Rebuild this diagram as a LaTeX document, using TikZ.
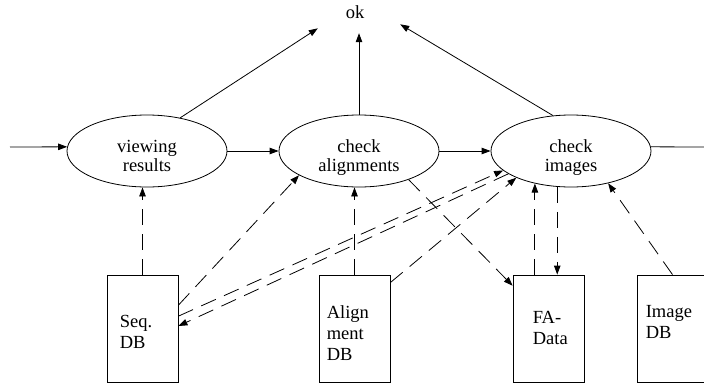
\documentclass[tikz,border=0pt]{standalone}
\usepackage{fontspec}
\setmainfont{Liberation Serif}
\usetikzlibrary{arrows.meta,shapes.geometric,calc}
\newcommand{\ctab}[1]{\begin{tabular}[t]{@{}c@{}}#1\end{tabular}}
\newcommand{\ltab}[1]{\begin{tabular}[t]{@{}l@{}}#1\end{tabular}}
\begin{document}
\begin{tikzpicture}[x=1pt,y=-1pt,
  every node/.style={font=\fontsize{18.5}{19.5}\selectfont},
  proc/.style={ellipse, draw, line width=0.8pt, minimum width=160pt, minimum height=72pt,
    inner sep=0pt, text height=12pt, text depth=10pt},
  store/.style={rectangle, draw, line width=0.8pt, minimum width=71pt, minimum height=107pt, inner sep=0pt},
  stxt/.style={anchor=base west, inner sep=0pt, font=\fontsize{18.5}{21}\selectfont},
  flow/.style={line width=0.8pt, -{Triangle[length=9pt,width=6.5pt]}},
  data/.style={flow, dash pattern=on 16pt off 9pt}
]
\clip (0,0) rectangle (704,383);
% processes
\node[proc] (vr) at (147,151) {\ctab{viewing\\results}};
\node[proc] (ca) at (359,151) {\ctab{check\\alignments}};
\node[proc] (ci) at (571,151) {\ctab{check\\images}};
\node[minimum width=82pt, minimum height=41pt, inner sep=0pt] (ok) at (359,12.5) {ok\hspace*{8pt}};
% stores
\node[store] (seq) at (142.5,328.5) {};
\node[store] (aln) at (354.5,328.5) {};
\node[store] (fa)  at (548.5,328.5) {};
\node[store] (img) at (672.5,328.5) {};
\node[stxt] (seqt) at ($(seq.north west)+(13,53)$) {\ltab{Seq.\\DB}};
\node[stxt] (alnt) at ($(aln.north west)+(8,44)$) {\ltab{Align\\ment\\DB}};
\node[stxt] (fat)  at ($(fa.north west)+(20,49)$) {\ltab{FA-\\Data}};
\node[stxt] (imgt) at ($(img.north west)+(9,43)$) {\ltab{Image\\DB}};
% main flow
\coordinate (in) at (10,147);
\coordinate (out) at (704,147);
\draw[flow] (in) -- (vr.177);
\draw[flow] (vr.east) -- (ca.west);
\draw[flow] (ca.east) -- (ci.west);
\draw[line width=0.8pt] (ci.3) -- (out);
\draw[flow] (vr.45) -- (ok.201.9);
\draw[flow] (ca.north) -- (ok.south);
\draw[flow] (ci.117) -- (ok.344.3);
% data flows
\draw[data] (seq.north) -- (seq.north |- vr.south);
\draw[data] (seq.33.5) -- (ca.202.4);
\draw[data] (seq.19.4) -- (ci.196);
\draw[data] (ci.200.6) -- (seq.4);
\draw[data] (aln.north) -- (aln.north |- ca.south);
\draw[data] (aln.52) -- (ci.206);
\draw[data] (ca.330.8) -- (fa.130.5);
\draw[data] (ci.222.8 |- fa.north) -- (ci.222.8);
\draw[data] (ci.249.9) -- (ci.249.9 |- fa.north);
\draw[data] (img.north) -- (ci.319);
\end{tikzpicture}
\end{document}
